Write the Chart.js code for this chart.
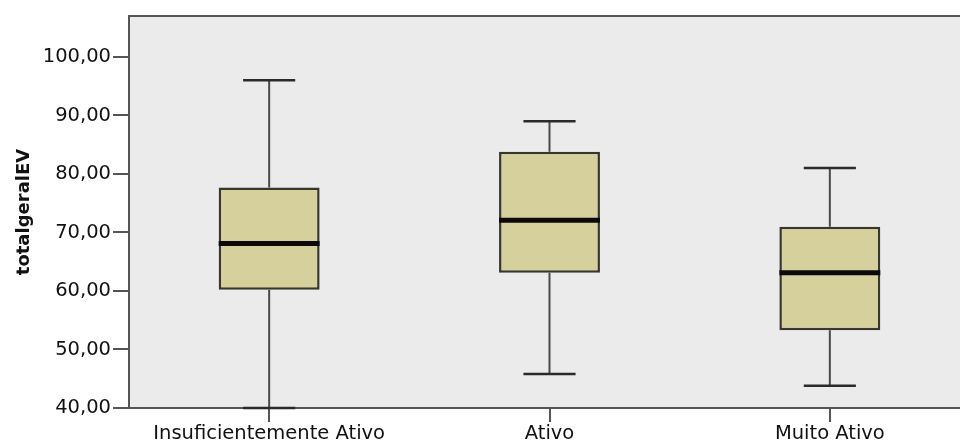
<!DOCTYPE html>
<html>
<head>
<meta charset="utf-8">
<script src="https://cdn.jsdelivr.net/npm/chart.js@4/dist/chart.umd.min.js"></script>
<style>
  html, body { margin: 0; padding: 0; background: #fff; overflow: hidden; }
  #wrap { width: 960px; height: 443px; overflow: hidden; }
</style>
</head>
<body>
<div id="wrap"><canvas id="boxChart" width="972" height="443"></canvas></div>
<script>
const categories = ["Insuficientemente Ativo", "Ativo", "Muito Ativo"];
const mins = [40, 45.8, 43.8];
const q1 = [60.2, 63.1, 53.3];
const medians = [68.1, 72.1, 63.1];
const q3 = [77.7, 83.8, 71.0];
const maxs = [96, 89, 81];

const FONT = "'DejaVu Sans', Verdana, sans-serif";

// grey plot background + top frame line
const frame = {
  id: "frame",
  beforeDraw(chart) {
    const a = chart.chartArea, ctx = chart.ctx;
    ctx.save();
    ctx.fillStyle = "#ebebeb";
    ctx.fillRect(a.left, a.top, a.right - a.left, a.bottom - a.top);
    ctx.restore();
  },
  afterDraw(chart) {
    const a = chart.chartArea, ctx = chart.ctx;
    ctx.save();
    ctx.strokeStyle = "#555";
    ctx.lineWidth = 2;
    ctx.beginPath();
    ctx.moveTo(a.left, a.top);
    ctx.lineTo(a.right, a.top);
    ctx.stroke();
    ctx.restore();
  }
};

// whiskers (under boxes) and medians (over boxes)
const boxParts = {
  id: "boxParts",
  beforeDatasetsDraw(chart) {
    const x = chart.scales.x, y = chart.scales.y, ctx = chart.ctx;
    const a = chart.chartArea;
    ctx.save();
    ctx.beginPath();
    ctx.rect(a.left, a.top - 2, a.right - a.left, a.bottom - a.top + 4);
    ctx.clip();
    categories.forEach((c, i) => {
      const cx = x.getPixelForValue(i);
      const step = x.getPixelForValue(1) - x.getPixelForValue(0);
      const hw = step * 0.093;
      ctx.strokeStyle = "#4a4a4a";
      ctx.lineWidth = 2;
      ctx.beginPath();
      ctx.moveTo(cx, y.getPixelForValue(q3[i]));
      ctx.lineTo(cx, y.getPixelForValue(maxs[i]));
      ctx.moveTo(cx, y.getPixelForValue(q1[i]));
      ctx.lineTo(cx, y.getPixelForValue(mins[i]));
      ctx.stroke();
      ctx.strokeStyle = "#2a2a2a";
      ctx.lineWidth = 2.5;
      ctx.beginPath();
      ctx.moveTo(cx - hw, y.getPixelForValue(maxs[i]));
      ctx.lineTo(cx + hw, y.getPixelForValue(maxs[i]));
      ctx.moveTo(cx - hw, y.getPixelForValue(mins[i]));
      ctx.lineTo(cx + hw, y.getPixelForValue(mins[i]));
      ctx.stroke();
    });
    ctx.restore();
  },
  afterDatasetsDraw(chart) {
    const meta = chart.getDatasetMeta(0), y = chart.scales.y, ctx = chart.ctx;
    ctx.save();
    ctx.strokeStyle = "#0a0a0a";
    ctx.lineWidth = 5;
    meta.data.forEach((bar, i) => {
      const py = y.getPixelForValue(medians[i]);
      ctx.beginPath();
      ctx.moveTo(bar.x - bar.width / 2, py);
      ctx.lineTo(bar.x + bar.width / 2, py);
      ctx.stroke();
    });
    ctx.restore();
  }
};

new Chart(document.getElementById("boxChart"), {
  type: "bar",
  data: {
    labels: categories,
    datasets: [{
      data: categories.map((c, i) => [q1[i], q3[i]]),
      backgroundColor: "#d6d09c",
      borderColor: "#37372d",
      borderWidth: 2.5,
      borderSkipped: false,
      categoryPercentage: 1,
      barPercentage: 0.36
    }]
  },
  options: {
    responsive: false,
    animation: false,
    layout: { padding: { top: 16, right: 2, left: 0, bottom: 0 } },
    plugins: { legend: { display: false }, tooltip: { enabled: false } },
    scales: {
      x: {
        offset: true,
        grid: { drawOnChartArea: false, offset: false, tickLength: 14, color: "#555", lineWidth: 2 },
        border: { display: true, color: "#555", width: 2 },
        ticks: { color: "#111", padding: 0, font: { family: FONT, size: 19.5 }, maxRotation: 0 },
        afterFit(scale) { scale.height = 35; }
      },
      y: {
        min: 40,
        max: 107,
        grid: { drawOnChartArea: false, tickLength: 16, color: "#555", lineWidth: 2 },
        border: { display: true, color: "#555", width: 2 },
        afterBuildTicks(scale) {
          scale.ticks = [40, 50, 60, 70, 80, 90, 100].map(v => ({ value: v }));
        },
        ticks: {
          color: "#111",
          padding: 2,
          font: { family: FONT, size: 19.5 },
          callback: v => v.toFixed(2).replace(".", ",")
        },
        title: {
          display: true,
          text: "totalgeralEV",
          color: "#111",
          padding: { top: 14, bottom: 0 },
          font: { family: FONT, size: 18, weight: "bold" }
        },
        afterFit(scale) { scale.width = 129; }
      }
    }
  },
  plugins: [frame, boxParts]
});
</script>
</body>
</html>
